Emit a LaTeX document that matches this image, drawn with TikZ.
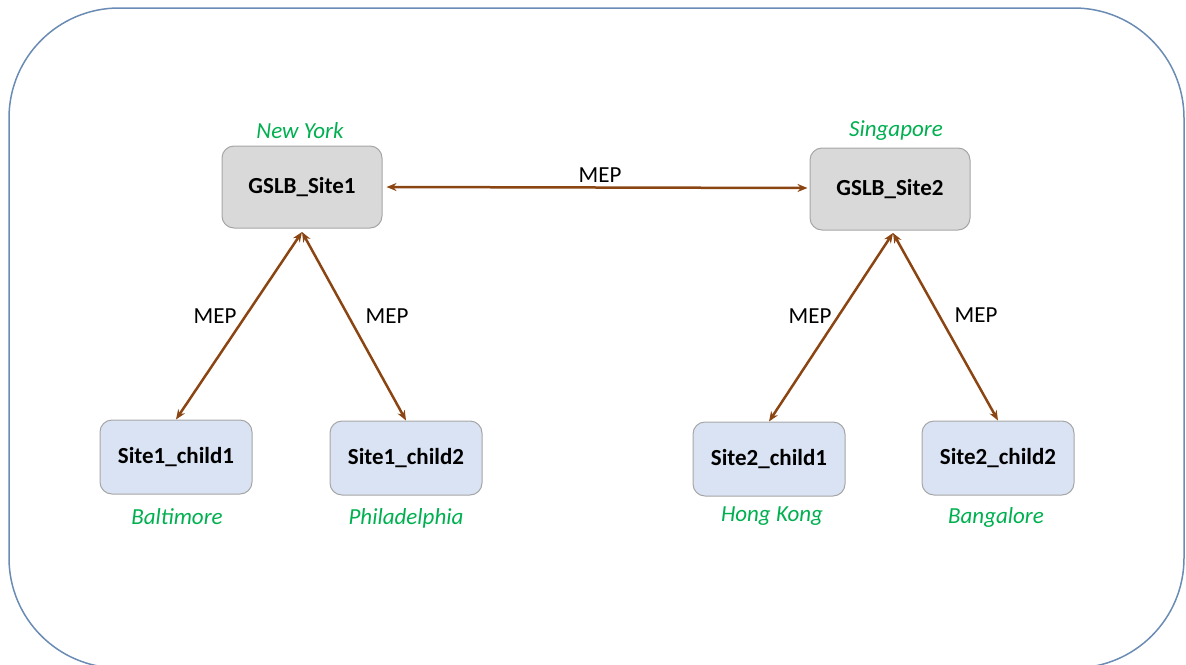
\documentclass[tikz,border=0pt]{standalone}
\usepackage{fontspec}
\setmainfont{Carlito}
\usetikzlibrary{arrows.meta}
\definecolor{frame}{HTML}{6A8CB4}
\definecolor{boxgray}{HTML}{D9D9D9}
\definecolor{boxblue}{HTML}{DAE3F3}
\definecolor{boxline}{HTML}{A6A6A6}
\definecolor{link}{HTML}{8B4513}
\definecolor{place}{HTML}{00B050}
\tikzset{
  site/.style={draw=boxline, fill=boxgray, rounded corners=12pt, line width=1pt,
    minimum width=160pt, minimum height=82pt, font=\fontsize{23}{27}\selectfont\bfseries},
  child/.style={draw=boxline, fill=boxblue, rounded corners=12pt, line width=1pt,
    minimum width=152pt, minimum height=74pt, font=\fontsize{23}{27}\selectfont\bfseries},
  city/.style={text=place, font=\fontsize{23}{27}\selectfont\itshape},
  mep/.style={font=\fontsize{23}{27}\selectfont},
  link/.style={draw=link, line width=2.5pt, {Stealth[length=10pt,width=8pt]}-{Stealth[length=10pt,width=8pt]}}
}
\begin{document}
\begin{tikzpicture}[x=1pt,y=-1pt]
\useasboundingbox (0,0) rectangle (1186,664);
\begin{scope}
\clip (0,0) rectangle (1186,664);
\draw[frame, line width=1.5pt, rounded corners=110pt] (9,8) rectangle (1184,668);
\end{scope}
\node[site] (s1) at (302,187) {GSLB\_Site1};
\node[site] (s2) at (890,189) {GSLB\_Site2};
\node[child] (c11) at (176,457) {Site1\_child1};
\node[child] (c12) at (406,458) {Site1\_child2};
\node[child] (c21) at (769,459) {Site2\_child1};
\node[child] (c22) at (998,458) {Site2\_child2};
\node[city] (ny) at (300,131) {New York};
\node[city] (sg) at (896,131) {Singapore};
\node[city] (bal) at (177,517) {Baltimore};
\node[city] (phi) at (406,518) {Philadelphia};
\node[city] (hk) at (772,516) {Hong Kong};
\node[city] (bg) at (996,517) {Bangalore};
\coordinate (s1b) at (302,232);
\coordinate (s2b) at (893,233);
\draw[link] ([xshift=4pt]s1.east) -- ([xshift=-2pt,yshift=1pt]s2.west);
\draw[link] (s1b) -- (c11.north);
\draw[link] (s1b) -- (c12.north);
\draw[link] (s2b) -- (c21.north);
\draw[link] (s2b) -- (c22.north);
\node[mep] (m0) at (600,175) {MEP};
\node[mep] (m1) at (215,316) {MEP};
\node[mep] (m2) at (387,316) {MEP};
\node[mep] (m3) at (810,316) {MEP};
\node[mep] (m4) at (976,315) {MEP};
\end{tikzpicture}
\end{document}
